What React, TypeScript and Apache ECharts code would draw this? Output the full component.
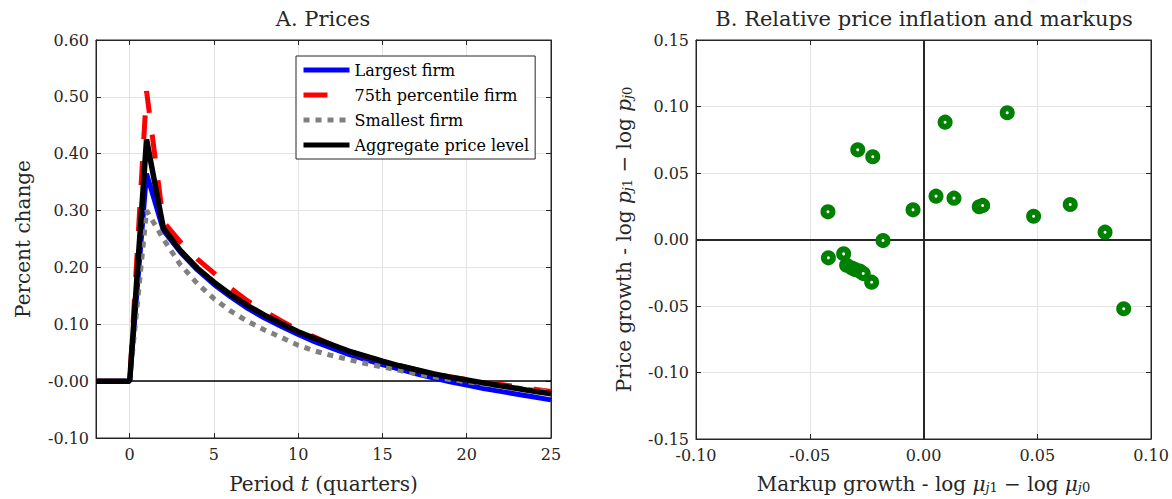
import React, { useEffect, useRef } from 'react';
import * as echarts from 'echarts';

const periods = [-2, -1, 0, 1, 2, 3, 4, 5, 6, 7, 8, 9, 10, 11, 12, 13, 14, 15, 16, 17, 18, 19, 20, 21, 22, 23, 24, 25];
const largestFirm = [0, 0, 0, 0.365, 0.265, 0.227, 0.196, 0.170, 0.148, 0.128, 0.111, 0.096, 0.082, 0.069, 0.058, 0.047, 0.038, 0.029, 0.021, 0.013, 0.006, -0.001, -0.007, -0.013, -0.018, -0.023, -0.028, -0.033];
const p75Firm = [0, 0, 0, 0.510, 0.280, 0.245, 0.215, 0.190, 0.163, 0.141, 0.123, 0.106, 0.090, 0.077, 0.064, 0.053, 0.043, 0.035, 0.027, 0.020, 0.013, 0.008, 0.003, -0.002, -0.006, -0.010, -0.014, -0.018];
const smallestFirm = [0, 0, 0, 0.300, 0.250, 0.205, 0.172, 0.145, 0.123, 0.105, 0.090, 0.077, 0.063, 0.053, 0.045, 0.038, 0.031, 0.025, 0.019, 0.013, 0.008, 0.003, -0.001, -0.005, -0.009, -0.012, -0.016, -0.019];
const aggregatePrice = [0, 0, 0, 0.425, 0.269, 0.230, 0.199, 0.174, 0.152, 0.133, 0.116, 0.101, 0.087, 0.075, 0.064, 0.053, 0.044, 0.035, 0.027, 0.020, 0.013, 0.007, 0.002, -0.003, -0.008, -0.013, -0.018, -0.022];

const leftXTicks = [0, 5, 10, 15, 20, 25];

const markupGrowth = [-0.0289, -0.0223, -0.0420, -0.0046, 0.0055, -0.0178, -0.0418, -0.0351, -0.0338, -0.0315, -0.0301, -0.0279, -0.0265, -0.0228, 0.0095, 0.0368, 0.0134, 0.0245, 0.0260, 0.0484, 0.0645, 0.0798, 0.0880];
const priceGrowth = [0.0674, 0.0622, 0.0208, 0.0223, 0.0326, -0.0008, -0.0138, -0.0108, -0.0193, -0.0215, -0.0226, -0.0238, -0.0256, -0.0321, 0.0882, 0.0953, 0.0311, 0.0246, 0.0256, 0.0175, 0.0263, 0.0055, -0.0521];

const FONT = "'DejaVu Serif', serif";
const AX = '#262626';
const GRIDC = '#e3e3e3';

function pairs(xs: number[], ys: number[]) {
  return xs.map((x, i) => [x, ys[i]]);
}

export default function App() {
  const ref = useRef<HTMLDivElement>(null);
  useEffect(() => {
    document.body.style.margin = '0';
    const chart = echarts.init(ref.current!, null, { renderer: 'svg' });
    const axisLine = { show: true, onZero: false, lineStyle: { color: AX, width: 1 } };
    const tick = { show: true, inside: true, length: 5, lineStyle: { color: AX } };
    const labelStyle = { color: AX, fontFamily: FONT, fontSize: 16 };
    const fmt2 = (v: number) => (Math.abs(v) < 1e-9 ? '-0.00' : v.toFixed(2));
    const fmtR = (v: number) => (Math.abs(v) < 1e-9 ? '0.00' : v.toFixed(2));
    const sub = { fontFamily: FONT, fontSize: 13, color: AX, verticalAlign: 'bottom', padding: [8, 0, 0, 0] };
    const nameRich = {
      a: { fontFamily: FONT, fontSize: 20, color: AX },
      i: { fontFamily: FONT, fontSize: 20, color: AX, fontStyle: 'italic' },
      s: sub,
      si: { ...sub, fontStyle: 'italic' },
    };
    const option: any = {
      animation: false,
      graphic: [
        { type: 'text', x: 323, y: 19, style: { text: 'A. Prices', fill: AX, font: `21px ${FONT}`, textAlign: 'center', textVerticalAlign: 'middle' } },
        { type: 'text', x: 924, y: 19, style: { text: 'B. Relative price inflation and markups', fill: AX, font: `21px ${FONT}`, textAlign: 'center', textVerticalAlign: 'middle' } },
      ],
      grid: [
        { left: 96, top: 40, width: 455, height: 398, show: true, borderColor: AX, borderWidth: 1, backgroundColor: '#fff' },
        { left: 696, top: 40, width: 455, height: 399, show: true, borderColor: AX, borderWidth: 1, backgroundColor: '#fff' },
      ],
      legend: {
        orient: 'vertical',
        left: 296,
        top: 56,
        itemWidth: 46,
        itemHeight: 12,
        itemGap: 9,
        padding: [6, 6, 6, 5],
        borderColor: AX,
        borderWidth: 1,
        borderRadius: 0,
        backgroundColor: '#fff',
        itemStyle: { opacity: 0 },
        lineStyle: { width: 5 },
        textStyle: { fontFamily: FONT, fontSize: 16, color: '#000' },
        data: ['Largest firm', '75th percentile firm', 'Smallest firm', 'Aggregate price level'],
      },
      xAxis: [
        {
          type: 'value', gridIndex: 0, min: -2, max: 25,
          axisLine, axisTick: { ...tick, customValues: leftXTicks },
          axisLabel: { ...labelStyle, margin: 8, customValues: leftXTicks },
          splitLine: { show: true, lineStyle: { color: GRIDC, width: 1 } },
          name: '{a|Period }{i|t}{a| (quarters)}', nameLocation: 'middle', nameGap: 36,
          nameTextStyle: { rich: nameRich },
        },
        {
          type: 'value', gridIndex: 0, min: -2, max: 25, position: 'top',
          axisLine, axisTick: { ...tick, customValues: leftXTicks },
          axisLabel: { show: false, customValues: leftXTicks }, splitLine: { show: false },
        },
        {
          type: 'value', gridIndex: 1, min: -0.1, max: 0.1, interval: 0.05,
          axisLine, axisTick: tick,
          axisLabel: { ...labelStyle, margin: 8, formatter: fmtR },
          splitLine: { show: true, lineStyle: { color: GRIDC, width: 1 } },
          name: '{a|Markup growth - log }{i|μ}{si|j}{s|1}{a| − log }{i|μ}{si|j}{s|0}', nameLocation: 'middle', nameGap: 34,
          nameTextStyle: { rich: nameRich },
        },
        {
          type: 'value', gridIndex: 1, min: -0.1, max: 0.1, interval: 0.05, position: 'top',
          axisLine, axisTick: tick,
          axisLabel: { show: false }, splitLine: { show: false },
        },
      ],
      yAxis: [
        {
          type: 'value', gridIndex: 0, min: -0.1, max: 0.6, interval: 0.1,
          axisLine, axisTick: tick,
          axisLabel: { ...labelStyle, margin: 7, formatter: fmt2 },
          splitLine: { show: true, lineStyle: { color: GRIDC, width: 1 } },
          name: '{a|Percent change}', nameLocation: 'middle', nameGap: 63,
          nameTextStyle: { rich: nameRich },
        },
        {
          type: 'value', gridIndex: 0, min: -0.1, max: 0.6, interval: 0.1, position: 'right',
          axisLine, axisTick: tick,
          axisLabel: { show: false }, splitLine: { show: false },
        },
        {
          type: 'value', gridIndex: 1, min: -0.15, max: 0.15, interval: 0.05,
          axisLine, axisTick: tick,
          axisLabel: { ...labelStyle, margin: 7, formatter: fmtR },
          splitLine: { show: true, lineStyle: { color: GRIDC, width: 1 } },
          name: '{a|Price growth - log }{i|p}{si|j}{s|1}{a| − log }{i|p}{si|j}{s|0}', nameLocation: 'middle', nameGap: 62,
          nameTextStyle: { rich: nameRich },
        },
        {
          type: 'value', gridIndex: 1, min: -0.15, max: 0.15, interval: 0.05, position: 'right',
          axisLine, axisTick: tick,
          axisLabel: { show: false }, splitLine: { show: false },
        },
      ],
      series: [
        {
          name: 'Largest firm', type: 'line', xAxisIndex: 0, yAxisIndex: 0, symbol: 'none', silent: true,
          data: pairs(periods, largestFirm), itemStyle: { color: '#0000ff' },
          lineStyle: { color: '#0000ff', width: 5 },
          markLine: {
            silent: true, symbol: 'none', label: { show: false }, z: 1,
            lineStyle: { color: '#000', width: 1.5, type: 'solid' },
            data: [{ yAxis: 0 }],
          },
        },
        {
          name: '75th percentile firm', type: 'line', xAxisIndex: 0, yAxisIndex: 0, symbol: 'none', silent: true,
          data: pairs(periods, p75Firm), itemStyle: { color: '#ff0000' },
          lineStyle: { color: '#ff0000', width: 5, type: [24, 22] },
        },
        {
          name: 'Smallest firm', type: 'line', xAxisIndex: 0, yAxisIndex: 0, symbol: 'none', silent: true,
          data: pairs(periods, smallestFirm), itemStyle: { color: '#808080' },
          lineStyle: { color: '#808080', width: 5, type: [6, 6] },
        },
        {
          name: 'Aggregate price level', type: 'line', xAxisIndex: 0, yAxisIndex: 0, symbol: 'none', silent: true,
          data: pairs(periods, aggregatePrice), itemStyle: { color: '#000' },
          lineStyle: { color: '#000', width: 5.5 },
        },
        {
          name: 'Firms', type: 'scatter', xAxisIndex: 2, yAxisIndex: 2, silent: true, z: 3,
          symbol: 'circle', symbolSize: 9,
          data: pairs(markupGrowth, priceGrowth),
          itemStyle: { color: '#fff', borderColor: '#008000', borderWidth: 6, opacity: 1 },
          markLine: {
            silent: true, symbol: 'none', label: { show: false }, z: 1,
            lineStyle: { color: '#262626', width: 2, type: 'solid' },
            data: [{ yAxis: 0 }, { xAxis: 0 }],
          },
        },
      ],
    };
    chart.setOption(option);
    return () => chart.dispose();
  }, []);
  return <div ref={ref} style={{ width: 1172, height: 499 }} />;
}
